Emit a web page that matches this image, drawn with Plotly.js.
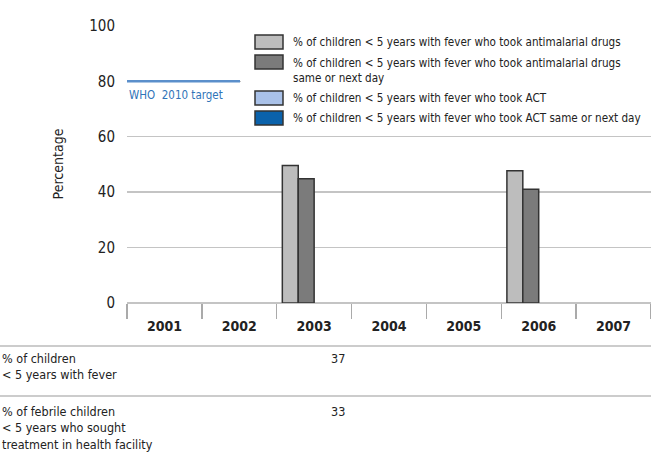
<!DOCTYPE html>
<html>
<head>
<meta charset="utf-8">
<script src="https://cdn.plot.ly/plotly-3.0.1.min.js"></script>
<style>html,body{margin:0;padding:0;background:#fff;}#chart{width:651px;height:453px;}</style>
</head>
<body>
<div id="chart"></div>
<script>
const years = ['2001', '2002', '2003', '2004', '2005', '2006', '2007'];
const antimalarial = [null, null, 49.6, null, null, 47.7, null];
const antimalarialSameDay = [null, null, 44.8, null, null, 41, null];
const act = [null, null, null, null, null, null, null];
const actSameDay = [null, null, null, null, null, null, null];
const seriesNames = [
  '% of children < 5 years with fever who took antimalarial drugs',
  '% of children < 5 years with fever who took antimalarial drugs<br>same or next day',
  '% of children < 5 years with fever who took ACT',
  '% of children < 5 years with fever who took ACT same or next day'
];
const seriesColors = ['#bdbdbd', '#7b7b7b', '#a9c1e8', '#0b62ab'];
const whoTarget = 80;
const whoLabel = 'WHO  2010 target';
const rowLabels = ['% of children<br>< 5 years with fever', '% of febrile children<br>< 5 years who sought<br>treatment in health facility'];
const feverPct = [null, null, 37, null, null, null, null];
const soughtTreatment = [null, null, 33, null, null, null, null];

const FONT = 'DejaVu Sans Condensed, DejaVu Sans, sans-serif';
const F = (size, extra) => Object.assign({family: FONT, size: size, color: '#222', stretch: 'condensed'}, extra || {});
const L = 127, R = 651, PT = 25, PB = 303;
const W = R - L, H = PB - PT;
const px = x => (x - L) / W;
const py = y => (PB - y) / H;

const seriesValues = [antimalarial, antimalarialSameDay, act, actSameDay];
const traces = seriesValues.map((vals, i) => ({
  type: 'bar', x: years, y: vals, name: seriesNames[i],
  marker: {color: seriesColors[i], line: {color: '#333', width: 1.5}},
  showlegend: false, hoverinfo: 'skip'
}));

const shapes = [];
const annotations = [];
shapes.push({type: 'rect', xref: 'paper', yref: 'paper', x0: px(241), x1: 1, y0: py(128), y1: py(30),
  fillcolor: '#fff', line: {width: 0}, layer: 'above'});
shapes.push({type: 'line', xref: 'paper', yref: 'y', x0: 0, x1: px(240), y0: whoTarget, y1: whoTarget,
  line: {color: '#5b8fcb', width: 2.5}, layer: 'above'});
annotations.push({xref: 'paper', yref: 'y', x: 0, y: whoTarget, yshift: -14, xanchor: 'left', yanchor: 'middle',
  text: whoLabel, showarrow: false, font: F(11.5, {color: '#2f74b8'})});
const rowCenters = [42, 62, 98, 118];
const textCenters = [42, 70, 98, 118];
seriesNames.forEach((n, i) => {
  const c = rowCenters[i];
  shapes.push({type: 'rect', xref: 'paper', yref: 'paper', x0: px(255), x1: px(283), y0: py(c + 7), y1: py(c - 7),
    fillcolor: seriesColors[i], line: {color: '#333', width: 1.5}, layer: 'above'});
  annotations.push({xref: 'paper', yref: 'paper', x: px(291), y: py(textCenters[i]), xanchor: 'left', yanchor: 'middle',
    align: 'left', text: n, showarrow: false, font: F(11.6)});
});
[346, 396].forEach(y => shapes.push({type: 'line', xref: 'paper', yref: 'paper', x0: px(0), x1: 1, y0: py(y), y1: py(y),
  line: {color: '#bbb', width: 1.5}}));
const rowTops = [349, 402];
rowLabels.forEach((t, i) => annotations.push({xref: 'paper', yref: 'paper', x: px(0), y: py(rowTops[i]), xanchor: 'left', yanchor: 'top',
  align: 'left', text: t, showarrow: false, font: F(12.5)}));
[feverPct, soughtTreatment].forEach((vals, r) => {
  vals.forEach((v, j) => {
    if (v === null) return;
    annotations.push({xref: 'x', yref: 'paper', x: j, xshift: 24, y: py(rowTops[r]), xanchor: 'center', yanchor: 'top',
      text: String(v), showarrow: false, font: F(12.5)});
  });
});

const layout = {
  width: 651, height: 453,
  margin: {l: L, r: 651 - R, t: PT, b: 453 - PB, pad: 0},
  paper_bgcolor: '#fff', plot_bgcolor: '#fff',
  barmode: 'group', bargap: 0.15, bargroupgap: 0,
  font: {family: FONT, color: '#222'},
  xaxis: {type: 'category', tickson: 'boundaries', ticks: 'outside', ticklen: 15, tickwidth: 1.5, tickcolor: '#aaa',
    showgrid: false, showline: false, zeroline: false, fixedrange: true, range: [-0.5, 6.5],
    ticklabelstandoff: 13, tickfont: F(14, {weight: 'bold'})},
  yaxis: {range: [0, 100.3], tickvals: [0, 20, 40, 60, 80, 100], ticks: '', showline: false,
    gridcolor: '#c4c4c4', gridwidth: 1.5, zeroline: true, zerolinecolor: '#c4c4c4', zerolinewidth: 1.5,
    ticklabelstandoff: 11, tickfont: F(15),
    title: {text: 'Percentage', font: F(14), standoff: 22}},
  shapes: shapes, annotations: annotations
};
Plotly.newPlot('chart', traces, layout, {staticPlot: true, displayModeBar: false});
</script>
</body>
</html>
